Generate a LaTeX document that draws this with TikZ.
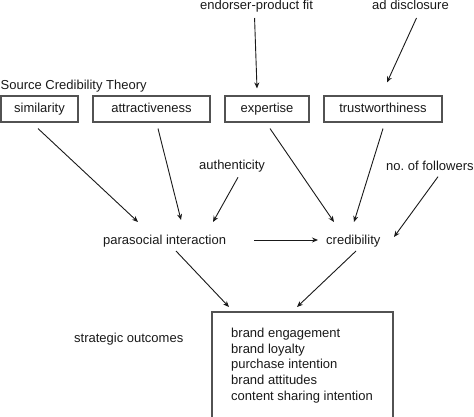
\documentclass[tikz,border=0pt]{standalone}
\usepackage{fontspec}
\setmainfont{Liberation Sans}
\usetikzlibrary{arrows.meta}
\frenchspacing
\begin{document}
\begin{tikzpicture}[x=1pt,y=-1pt,
  every node/.style={font=\fontsize{13}{15.6}\selectfont, inner sep=0pt, text=black!90},
  lbl/.style={anchor=base west},
  box/.style={draw=black!68, line width=1.1pt, minimum height=26pt, text height=9.4pt, text depth=2.8pt},
  arr/.style={draw=black!90, line width=0.9pt, -{Stealth[length=6pt,width=5pt]}}]
\useasboundingbox (0,0) rectangle (474,417);

% top factors
\node[lbl] (efit) at (200,10) {endorser-product fit};
\node[lbl] (adisc) at (372,10) {ad disclosure};
\node[lbl] (sct) at (0.5,89.5) {Source Credibility Theory};

% source credibility boxes
\node[box, minimum width=77pt] (sim) at (39.5,109) {similarity};
\node[box, minimum width=117pt] (attr) at (151.5,109) {attractiveness};
\node[box, minimum width=84pt] (exp) at (267,109) {expertise};
\node[box, minimum width=118pt] (trust) at (383,109) {trustworthiness};

% middle
\node[lbl] (auth) at (199,169.3) {authenticity};
\node[lbl] (foll) at (386,170.7) {no.\ of followers};
\node[lbl] (psi) at (103,244) {parasocial interaction};
\node[lbl] (cred) at (326,244) {credibility};

% outcomes
\node[lbl] (strat) at (74,342.7) {strategic outcomes};
\draw[draw=black!68, line width=1.1pt] (212,312) rectangle (393,418.5);
\coordinate (outNW) at (212,312);
\node[lbl] (o1) at (231,337.3) {brand engagement};
\node[lbl] (o2) at (231,353) {brand loyalty};
\node[lbl] (o3) at (231,368.7) {purchase intention};
\node[lbl] (o4) at (231,384.3) {brand attitudes};
\node[lbl] (o5) at (231,400) {content sharing intention};

% arrow endpoints relative to nodes
\coordinate (efitS) at ([shift={(-2,8)}]efit.base);
\coordinate (expN) at ([shift={(-10,-7)}]exp.north);
\coordinate (adiscS) at ([shift={(6,8)}]adisc.base);
\coordinate (trustN) at ([shift={(4,-13)}]trust.north);
\coordinate (simS) at ([shift={(-1.5,6)}]sim.south);
\coordinate (attrS) at ([shift={(6.5,6)}]attr.south);
\coordinate (expS) at ([shift={(3,6)}]exp.south);
\coordinate (trustS) at ([shift={(0,6)}]trust.south);
\coordinate (psiA) at ([shift={(35,-22)}]psi.base west);
\coordinate (psiB) at ([shift={(78,-24)}]psi.base west);
\coordinate (psiC) at ([shift={(110,-22)}]psi.base west);
\coordinate (psiE) at ([shift={(151,-4)}]psi.base west);
\coordinate (psiS) at ([shift={(73,7)}]psi.base west);
\coordinate (authS) at ([shift={(39,8)}]auth.base west);
\coordinate (credA) at ([shift={(8,-22)}]cred.base west);
\coordinate (credB) at ([shift={(28,-22)}]cred.base west);
\coordinate (credW) at ([shift={(-8,-4)}]cred.base west);
\coordinate (credE) at ([shift={(68,-7)}]cred.base west);
\coordinate (credS) at ([shift={(30,7)}]cred.base west);
\coordinate (follS) at ([shift={(52,6)}]foll.base west);
\coordinate (outA) at ([shift={(17,-5)}]outNW);
\coordinate (outB) at ([shift={(85,-5)}]outNW);

% connectors
\draw[arr] (efitS) -- (expN);
\draw[arr] (adiscS) -- (trustN);
\draw[arr] (simS) -- (psiA);
\draw[arr] (attrS) -- (psiB);
\draw[arr] (authS) -- (psiC);
\draw[arr] (expS) -- (credA);
\draw[arr] (trustS) -- (credB);
\draw[arr] (follS) -- (credE);
\draw[arr] (psiE) -- (credW);
\draw[arr] (psiS) -- (outA);
\draw[arr] (credS) -- (outB);
\end{tikzpicture}
\end{document}
